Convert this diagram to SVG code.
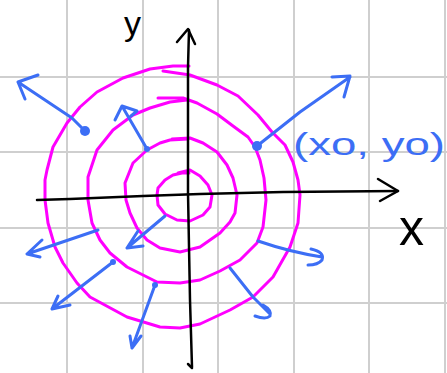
<svg xmlns="http://www.w3.org/2000/svg" width="447" height="373" viewBox="0 0 447 373">
<style>
.grid{stroke:#cfcfcf;stroke-width:2;fill:none}
.axis{stroke:#000;stroke-width:2.5;fill:none;stroke-linecap:round;stroke-linejoin:round}
.spiral{stroke:#ff00ff;stroke-width:3;fill:none;stroke-linecap:round;stroke-linejoin:round}
.vec{stroke:#3c6ef5;stroke-width:3;fill:none;stroke-linecap:round;stroke-linejoin:round}
.dot{fill:#3c6ef5}
.lbl{font-family:"Liberation Sans",Arial,sans-serif}
</style>
<rect width="447" height="373" fill="#fff"/>
<g id="grid" class="grid">
<path d="M67,0V373M143,0V373M218,0V373M294,0V373M369,0V373M445,0V373"/>
<path d="M0,77H447M0,152H447M0,228H447M0,303H447"/>
</g>
<g id="spiral" class="spiral">
<path d="M178,173 L190,170 L200,176 L208,185 L212,195 L210,207 L203,215 L190,221 L177,220 L165,214 L158,205 L157,195 L158,188 L165,180 L173,175 L182,173 L189,173"/>
<path d="M172,139 L190,138 L203,143 L217,152 L227,165 L233,178 L237,195 L235,213 L230,222 L220,233 L200,247 L180,252 L160,248 L147,240 L137,228 L130,213 L126,200 L125,183 L133,163 L147,150 L160,143 L170,140 L188,139"/>
<path d="M158,98 L183,98 L197,103 L217,114 L233,126 L248,137 L255,147 L260,160 L264,178 L266,200 L263,227 L257,243 L240,260 L220,271 L200,280 L180,283 L157,282 L127,267 L110,253 L100,240 L92,223 L88,200 L88,177 L97,150 L113,130 L133,115 L150,108 L170,102 L187,100"/>
<path d="M163,71 L190,75 L217,85 L238,96 L258,115 L272,132 L285,145 L293,162 L298,180 L300,195 L298,223 L290,247 L273,277 L253,297 L230,310 L200,324 L180,328 L160,327 L127,317 L90,297 L77,283 L63,263 L55,247 L48,223 L45,200 L45,180 L47,170 L53,147 L67,123 L80,107 L97,92 L123,78 L150,69 L173,66 L189,66"/>
</g>
<g id="axes" class="axis">
<path d="M37,200 L70,199 L143,196 L200,194 L283,192 L398,191"/>
<path d="M378,179 L398,191 L380,201"/>
<path d="M192,367 L190,300 L188,193 L188,67 L189,30"/>
<path d="M177,42 L188,29 L195,44"/>
<path d="M188,364 L192,368"/>
</g>
<g id="vectors">
<g id="v1"><circle class="dot" cx="85" cy="131" r="5"/><path class="vec" d="M85,131 L72,118 L18,82 M38,75 L18,82 L25,99"/></g>
<g id="v2"><circle class="dot" cx="147" cy="149" r="3"/><path class="vec" d="M147,149 L122,106 M115,120 L122,106 L137,111 L131,116"/></g>
<g id="v3"><circle class="dot" cx="257" cy="146" r="5"/><path class="vec" d="M257,146 L300,112 L350,77 M332,77 L350,76 L344,97"/></g>
<g id="v4"><path class="vec" d="M98,230 L27,254 M42,240 L27,254 L40,257"/></g>
<g id="v5"><path class="vec" d="M165,216 L127,248 M138,231 L127,248 L143,246"/></g>
<g id="v6"><circle class="dot" cx="113" cy="262" r="3"/><path class="vec" d="M113,262 L52,309 M58,296 L52,309 L70,305"/></g>
<g id="v7"><circle class="dot" cx="155" cy="285" r="3"/><path class="vec" d="M155,285 L132,348 M130,336 L132,348 L141,336"/></g>
<g id="v8"><path class="vec" d="M258,241 Q290,252 322,257 M311,249 Q325,252 322,260 Q318,265 308,265"/></g>
<g id="v9"><path class="vec" d="M230,268 L253,297 L269,313 M263,305 Q272,310 270,316 Q266,320 255,316"/></g>
</g>
<g id="labels" class="lbl">
<text x="124" y="35" font-size="34" fill="#000">y</text>
<text x="399" y="245" font-size="50" fill="#000">x</text>
<text x="293" y="155" font-size="32" fill="#3c6ef5" textLength="152" lengthAdjust="spacingAndGlyphs">(xo, yo)</text>
</g>
</svg>
